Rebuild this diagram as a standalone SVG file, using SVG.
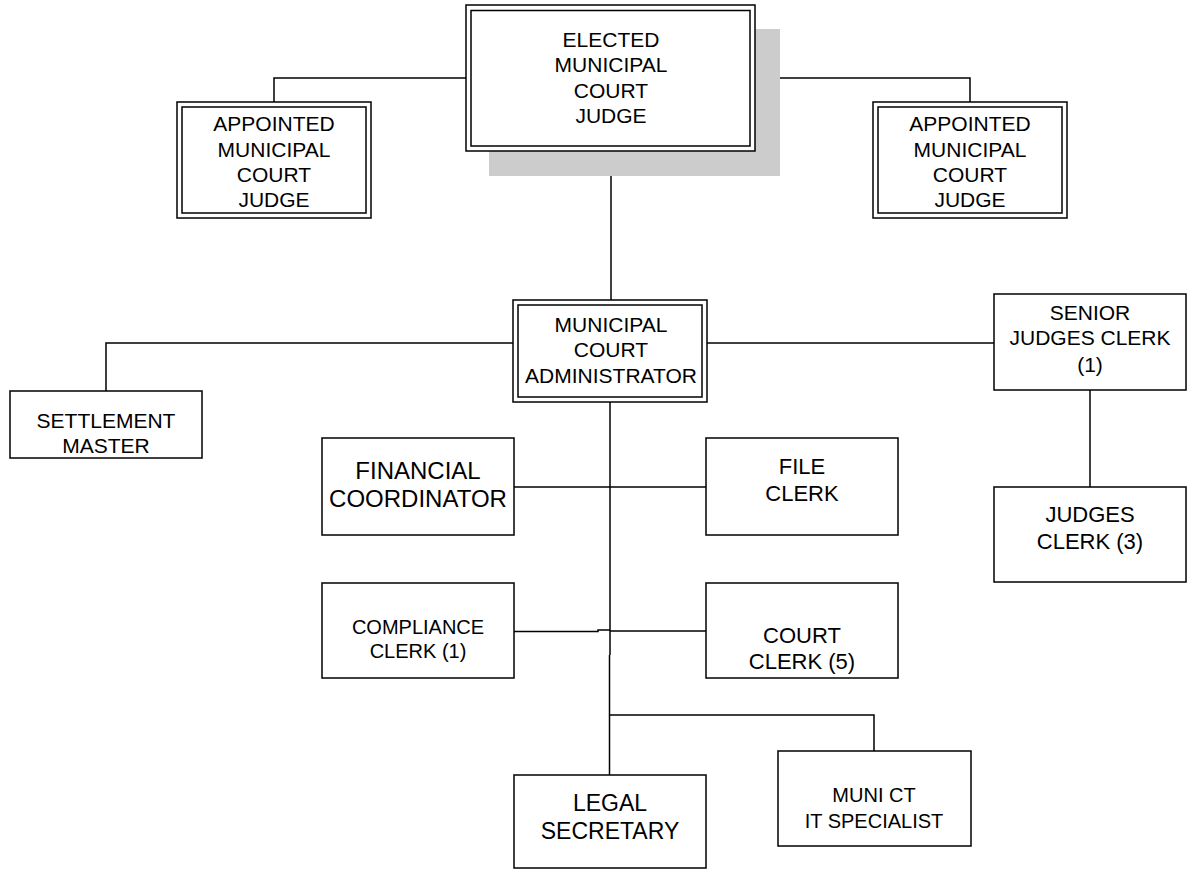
<svg xmlns="http://www.w3.org/2000/svg" width="1189" height="871" viewBox="0 0 1189 871">
  <style>
    .box { fill: #ffffff; stroke: #000000; stroke-width: 1.5; }
    .inner { fill: none; stroke: #000000; stroke-width: 1.5; }
    .shadow { fill: #cccccc; stroke: none; }
    .link { fill: none; stroke: #000000; stroke-width: 1.5; }
    text { font-family: "Liberation Sans", Arial, sans-serif; font-size: 21px; fill: #000000; text-anchor: middle; }
  </style>

  <!-- connectors -->
  <g id="connectors">
    <path class="link" d="M274 102 V78 H466"/>
    <path class="link" d="M755 78 H970 V102"/>
    <path class="link" d="M611 151 V300"/>
    <path class="link" d="M513 343 H106 V391"/>
    <path class="link" d="M707 343 H994"/>
    <path class="link" d="M1090 390 V487"/>
    <path class="link" d="M610 402 V655"/>
    <path class="link" d="M609.5 655 V775"/>
    <path class="link" d="M514 487 H706"/>
    <path class="link" d="M514 631.5 H598 V630 H610"/>
    <path class="link" d="M610 631 H706"/>
    <path class="link" d="M610 715 H874 V751"/>
  </g>

  <!-- elected judge with drop shadow -->
  <g id="elected-judge">
    <rect class="shadow" x="489" y="29" width="291" height="147"/>
    <rect class="box" x="466" y="5" width="289" height="146"/>
    <rect class="inner" x="471" y="10.5" width="279" height="135.5"/>
    <text x="611" y="47">ELECTED</text>
    <text x="611" y="72">MUNICIPAL</text>
    <text x="611" y="98">COURT</text>
    <text x="611" y="123">JUDGE</text>
  </g>

  <g id="appointed-judge-left">
    <rect class="box" x="177" y="102" width="194" height="116"/>
    <rect class="inner" x="182" y="107" width="184" height="106"/>
    <text x="274" y="131">APPOINTED</text>
    <text x="274" y="157">MUNICIPAL</text>
    <text x="274" y="182">COURT</text>
    <text x="274" y="207">JUDGE</text>
  </g>

  <g id="appointed-judge-right">
    <rect class="box" x="873" y="102" width="194" height="116"/>
    <rect class="inner" x="878" y="107" width="184" height="106"/>
    <text x="970" y="131">APPOINTED</text>
    <text x="970" y="157">MUNICIPAL</text>
    <text x="970" y="182">COURT</text>
    <text x="970" y="207">JUDGE</text>
  </g>

  <g id="court-administrator">
    <rect class="box" x="513" y="300" width="194" height="102"/>
    <rect class="inner" x="518" y="305" width="184" height="92"/>
    <text x="611" y="332">MUNICIPAL</text>
    <text x="611" y="357">COURT</text>
    <text x="611" y="383">ADMINISTRATOR</text>
  </g>

  <g id="settlement-master">
    <rect class="box" x="10" y="391" width="192" height="67"/>
    <text x="106" y="428">SETTLEMENT</text>
    <text x="106" y="453">MASTER</text>
  </g>

  <g id="senior-judges-clerk">
    <rect class="box" x="994" y="294" width="192" height="96"/>
    <text x="1090" y="320">SENIOR</text>
    <text x="1090" y="345">JUDGES CLERK</text>
    <text x="1090" y="372">(1)</text>
  </g>

  <g id="judges-clerk">
    <rect class="box" x="994" y="487" width="192" height="95"/>
    <text x="1090" y="522" style="font-size:22px">JUDGES</text>
    <text x="1090" y="549" style="font-size:22px">CLERK (3)</text>
  </g>

  <g id="financial-coordinator">
    <rect class="box" x="322" y="438" width="192" height="97"/>
    <text x="418" y="479" style="font-size:24px">FINANCIAL</text>
    <text x="418" y="507" style="font-size:24px">COORDINATOR</text>
  </g>

  <g id="file-clerk">
    <rect class="box" x="706" y="438" width="192" height="97"/>
    <text x="802" y="474" style="font-size:22px">FILE</text>
    <text x="802" y="501" style="font-size:22px">CLERK</text>
  </g>

  <g id="compliance-clerk">
    <rect class="box" x="322" y="583" width="192" height="95"/>
    <text x="418" y="634" style="font-size:20px">COMPLIANCE</text>
    <text x="418" y="658" style="font-size:20px">CLERK (1)</text>
  </g>

  <g id="court-clerk">
    <rect class="box" x="706" y="583" width="192" height="95"/>
    <text x="802" y="643" style="font-size:22px">COURT</text>
    <text x="802" y="669" style="font-size:22px">CLERK (5)</text>
  </g>

  <g id="legal-secretary">
    <rect class="box" x="514" y="775" width="192" height="93"/>
    <text x="610" y="811" style="font-size:23px">LEGAL</text>
    <text x="610" y="839" style="font-size:23px">SECRETARY</text>
  </g>

  <g id="it-specialist">
    <rect class="box" x="778" y="751" width="193" height="95"/>
    <text x="874" y="802" style="font-size:20px">MUNI CT</text>
    <text x="874" y="828" style="font-size:20px">IT SPECIALIST</text>
  </g>
</svg>
